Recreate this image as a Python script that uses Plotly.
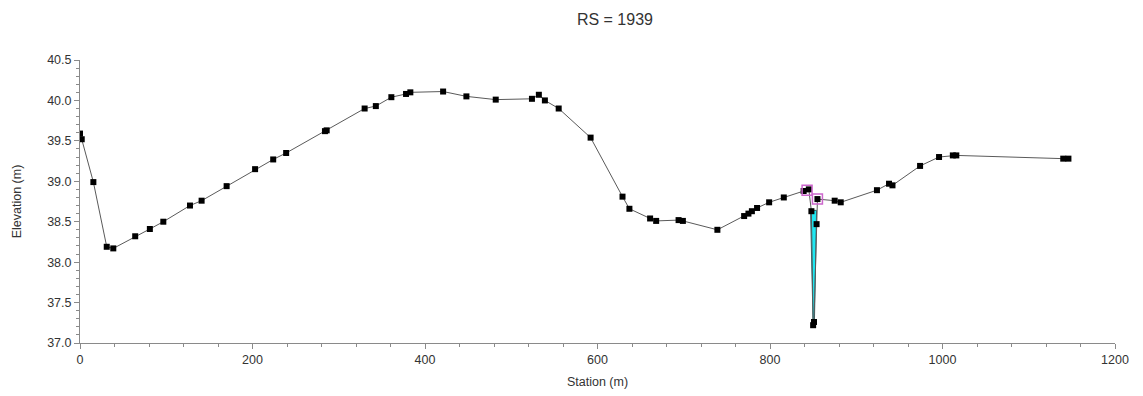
import plotly.graph_objects as go

station = [0, 2, 15.5, 31, 38.6, 64, 81, 96.6, 127.5, 141, 170, 203, 224, 239,
           284, 286, 330, 343, 361, 378, 383, 421, 448, 482, 524, 532, 539, 555,
           592, 629, 637, 661, 668, 694, 699, 739, 770, 775, 779, 785, 799, 816,
           839, 845, 848, 850, 851, 854, 855, 875, 882, 924, 938, 942, 974, 996,
           1012, 1016, 1140, 1146]
elevation = [39.59, 39.52, 38.99, 38.19, 38.17, 38.32, 38.41, 38.50, 38.70, 38.76,
             38.94, 39.15, 39.27, 39.35, 39.62, 39.63, 39.90, 39.93, 40.04, 40.08,
             40.10, 40.11, 40.05, 40.01, 40.02, 40.07, 40.00, 39.90, 39.54, 38.81,
             38.66, 38.54, 38.51, 38.52, 38.51, 38.40, 38.57, 38.60, 38.63, 38.67,
             38.74, 38.80, 38.88, 38.90, 38.63, 37.22, 37.26, 38.47, 38.78, 38.76,
             38.74, 38.89, 38.97, 38.95, 39.19, 39.30, 39.32, 39.32, 39.28, 39.28]

water_x = [847, 850, 851.5, 854, 847]
water_y = [38.64, 37.22, 37.26, 38.64, 38.64]

bank_x = [843, 855]
bank_y = [38.89, 38.78]

fig = go.Figure()
fig.add_trace(go.Scatter(x=water_x, y=water_y, mode="lines", fill="toself",
                         fillcolor="#1ee8f2", line=dict(color="#2a6a70", width=1),
                         hoverinfo="skip", showlegend=False))
fig.add_trace(go.Scatter(x=station, y=elevation, mode="lines+markers",
                         line=dict(color="#5a5a5a", width=1),
                         marker=dict(symbol="square", size=6, color="black"),
                         showlegend=False))
fig.add_trace(go.Scatter(x=bank_x, y=bank_y, mode="markers",
                         marker=dict(symbol="square-open", size=10, color="#cc66cc",
                                     line=dict(width=1.5)),
                         showlegend=False))

axis_common = dict(showline=True, linecolor="#8a8a8a", linewidth=1, ticks="outside",
                   tickcolor="#8a8a8a", ticklen=5, showgrid=False, zeroline=False,
                   tickfont=dict(family="Liberation Sans", size=12.5, color="#333333"),
                   mirror=False, automargin=False)

fig.update_layout(
    width=1143, height=396,
    margin=dict(l=80, r=28, t=60, b=53),
    plot_bgcolor="white", paper_bgcolor="white",
    font=dict(family="Liberation Sans", color="#333333"),
    title=dict(text="RS = 1939", x=0.538, xanchor="center", y=0.95, yanchor="middle",
               font=dict(size=16, color="#333333"), automargin=False),
    xaxis=dict(range=[0, 1200], dtick=200, tick0=0,
               minor=dict(ticks="outside", dtick=40, ticklen=3, tickcolor="#8a8a8a"),
               title=dict(text="Station (m)", font=dict(size=12.5), standoff=11),
               **axis_common),
    yaxis=dict(range=[37.0, 40.5], dtick=0.5, tick0=37, tickformat=".1f",
               minor=dict(ticks="outside", dtick=0.1, ticklen=3, tickcolor="#8a8a8a"),
               title=dict(text="Elevation (m)", font=dict(size=12.5), standoff=22),
               **axis_common),
)

fig.write_html("out.html")
